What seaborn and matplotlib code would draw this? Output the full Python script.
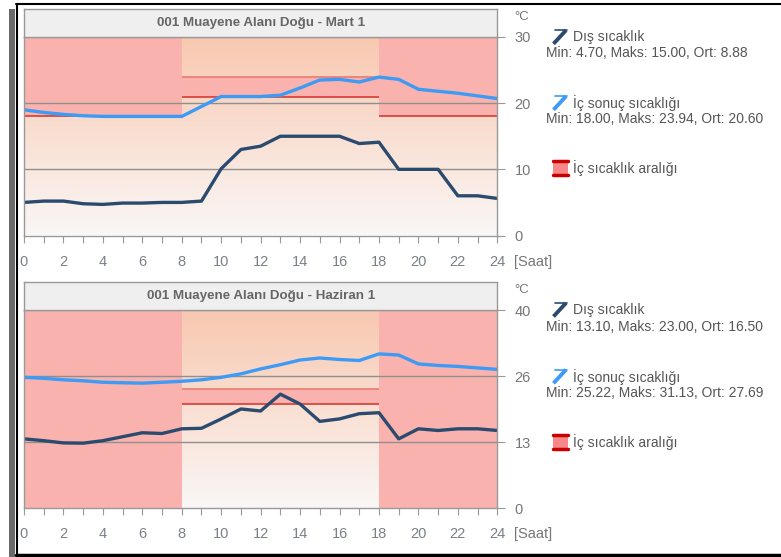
import numpy as np
import pandas as pd
import seaborn as sns
import matplotlib.pyplot as plt
from matplotlib.lines import Line2D
from matplotlib.patches import Rectangle

hours = list(range(25))

# March (Mart 1)
mart_dis = [5.0, 5.2, 5.2, 4.8, 4.7, 4.9, 4.9, 5.0, 5.0, 5.2, 10.1, 13.0, 13.5,
            15.0, 15.0, 15.0, 15.0, 13.9, 14.1, 10.0, 10.0, 10.0, 6.0, 6.0, 5.6]
mart_ic = [19.0, 18.6, 18.3, 18.1, 18.0, 18.0, 18.0, 18.0, 18.0, 19.5, 21.0,
           21.0, 21.0, 21.2, 22.3, 23.5, 23.6, 23.2, 23.94, 23.6, 22.1, 21.8,
           21.5, 21.1, 20.7]
# June (Haziran 1)
haziran_dis = [13.97, 13.6, 13.15, 13.1, 13.6, 14.4, 15.2, 15.05, 16.0, 16.1,
               18.0, 20.0, 19.6, 23.0, 21.0, 17.5, 18.0, 19.05, 19.25, 13.97,
               16.0, 15.66, 16.0, 16.0, 15.66]
haziran_ic = [26.4, 26.2, 25.9, 25.7, 25.4, 25.3, 25.22, 25.4, 25.6, 25.9, 26.4,
              27.1, 28.1, 28.95, 29.9, 30.3, 30.0, 29.8, 31.13, 30.9, 29.1,
              28.8, 28.6, 28.3, 28.0]

# indoor temperature range segments
seg_edges = [0, 8, 18, 24]
mart_low = [18, 21, 18]
mart_high = [30, 24, 30]
haziran_low = [0, 21, 0]
haziran_high = [40, 24, 40]

titles = ["001 Muayene Alanı Doğu - Mart 1", "001 Muayene Alanı Doğu - Haziran 1"]
stats_dis = ["Min: 4.70, Maks: 15.00, Ort: 8.88", "Min: 13.10, Maks: 23.00, Ort: 16.50"]
stats_ic = ["Min: 18.00, Maks: 23.94, Ort: 20.60", "Min: 25.22, Maks: 31.13, Ort: 27.69"]
y_max = [30, 40]
y_ticks = [[0, 10, 20, 30], [0, 40 / 3, 80 / 3, 40]]
y_labels = [["0", "10", "20", "30"], ["0", "13", "26", "40"]]

W, H = 781, 557


def fx(x):
    return x / W


def fy(y):
    return 1 - y / H


sns.set_style("white")
plt.rcParams['font.family'] = ['Liberation Sans', 'DejaVu Sans']

fig = plt.figure(figsize=(W / 100, H / 100), dpi=100)

panels = [
    (mart_dis, mart_ic, mart_low, mart_high),
    (haziran_dis, haziran_ic, haziran_low, haziran_high),
]
tops = [37, 310]
bots = [235.5, 508]
legend_y = [[37.3, 53.3, 103.3, 119.3, 168.3], [310, 326.7, 376.7, 393.3, 441.7]]

c_dark = "#2b4b6e"
c_blue = "#3d9bf5"
c_pink = "#f9b2ae"
grad_top = np.array([248, 200, 176]) / 255
grad_bot = np.array([250, 247, 246]) / 255
t = np.linspace(0, 1, 256)[:, None]
grad = (grad_top + (grad_bot - grad_top) * t).reshape(256, 1, 3)
txt = "#555555"

for i, (dis, ic, low, high) in enumerate(panels):
    top, bot = tops[i], bots[i]
    ymax = y_max[i]
    ax = fig.add_axes([fx(24), fy(bot), fx(497.3) - fx(24), (bot - top) / H])
    ax.imshow(grad, extent=[0, 24, 0, ymax], aspect="auto", zorder=0)

    for j in range(3):
        e0, e1 = seg_edges[j], seg_edges[j + 1]
        ax.fill_between([e0, e1], low[j], high[j], color=c_pink, lw=0, zorder=1)
        if 0 < low[j] < ymax:
            ax.hlines(low[j], e0, e1, color="#d93a35", lw=1.2, zorder=2)
        if 0 < high[j] < ymax:
            ax.hlines(high[j], e0, e1, color="#ec7a72", lw=1.2, zorder=2)

    for tk in y_ticks[i][1:-1]:
        ax.axhline(tk, color="#8f8f8f", lw=1, zorder=2)

    df = pd.DataFrame({"Saat": hours, "dis": dis, "ic": ic})
    sns.lineplot(data=df, x="Saat", y="dis", color=c_dark, linewidth=2.4,
                 ax=ax, zorder=3)
    sns.lineplot(data=df, x="Saat", y="ic", color=c_blue, linewidth=2.4,
                 ax=ax, zorder=3)

    ax.set_xlim(0, 24)
    ax.set_ylim(0, ymax)
    ax.set_xlabel("")
    ax.set_ylabel("")
    ax.yaxis.tick_right()
    ax.set_yticks(y_ticks[i])
    ax.set_yticklabels(y_labels[i])
    ax.set_xticks(hours)
    ax.set_xticklabels([str(h) if h % 2 == 0 else "" for h in hours])
    ax.tick_params(axis="y", right=True, length=5.8, width=0.8, color="#999999",
                   labelcolor="#777777", labelsize=10.5, pad=6.5)
    ax.tick_params(axis="x", bottom=True, length=5, width=0.8, color="#999999",
                   labelcolor="#7a8088", labelsize=10.5, pad=9)
    for sp in ax.spines.values():
        sp.set_color("#999999")
        sp.set_linewidth(1)
        sp.set_zorder(5)

    # title band
    tax = fig.add_axes([fx(24), fy(top), fx(497.3) - fx(24), 28.5 / H])
    tax.set_facecolor("#efefef")
    tax.set_xticks([])
    tax.set_yticks([])
    for sp in tax.spines.values():
        sp.set_color("#999999")
        sp.set_linewidth(1)
    tax.text(0.5, 0.5, titles[i], ha="center", va="center", fontweight="bold",
             color="#666666", fontsize=9.6, transform=tax.transAxes)

    fig.text(fx(514), fy(top - 20), "°C", ha="left", va="center",
             color="#777777", fontsize=9.5)
    fig.text(fx(514), fy(bot + 26.2), "[Saat]", ha="left", va="center",
             color="#777777", fontsize=10.5)

    # legend
    ly = legend_y[i]
    for k, col in ((0, c_dark), (2, c_blue)):
        fig.add_artist(Line2D([fx(555), fx(567)], [fy(ly[k] - 7)] * 2,
                              lw=1.2, color=col, transform=fig.transFigure))
        fig.add_artist(Line2D([fx(566), fx(553.5)],
                              [fy(ly[k] - 7), fy(ly[k] + 6.5)],
                              lw=2.8, color=col, solid_capstyle="butt",
                              transform=fig.transFigure))
    fig.text(fx(573), fy(ly[0]), "Dış sıcaklık", va="center", color=txt,
             fontsize=10)
    fig.text(fx(546), fy(ly[1]), stats_dis[i], va="center", color=txt,
             fontsize=10)
    fig.text(fx(573), fy(ly[2]), "İç sonuç sıcaklığı", va="center",
             color=txt, fontsize=10)
    fig.text(fx(546), fy(ly[3]), stats_ic[i], va="center", color=txt,
             fontsize=10)
    fig.add_artist(Rectangle((fx(552.5), fy(ly[4] + 7)), fx(15), 14 / H,
                             facecolor="#f6888a", edgecolor="none",
                             transform=fig.transFigure))
    for dy in (-7, 7):
        fig.add_artist(Line2D([fx(552.5), fx(567.5)], [fy(ly[4] + dy)] * 2,
                              lw=2.5, color="#c80000", transform=fig.transFigure))
    fig.text(fx(573), fy(ly[4]), "İç sıcaklık aralığı", va="center",
             color=txt, fontsize=10)

# outer frame
fig.add_artist(Rectangle((fx(9), 0), fx(6), fy(9), facecolor="#6a6a6a",
                         edgecolor="none", transform=fig.transFigure))
fig.add_artist(Line2D([fx(16.5), fx(16.5)], [fy(3.5), fy(556)], lw=1.5,
                      color="black", transform=fig.transFigure))
fig.add_artist(Line2D([fx(16), 1], [fy(4), fy(4)], lw=1.5, color="black",
                      transform=fig.transFigure))
fig.add_artist(Line2D([fx(16), 1], [fy(555), fy(555)], lw=2.5, color="black",
                      transform=fig.transFigure))

fig.savefig("out.png", dpi=100)
plt.close(fig)
